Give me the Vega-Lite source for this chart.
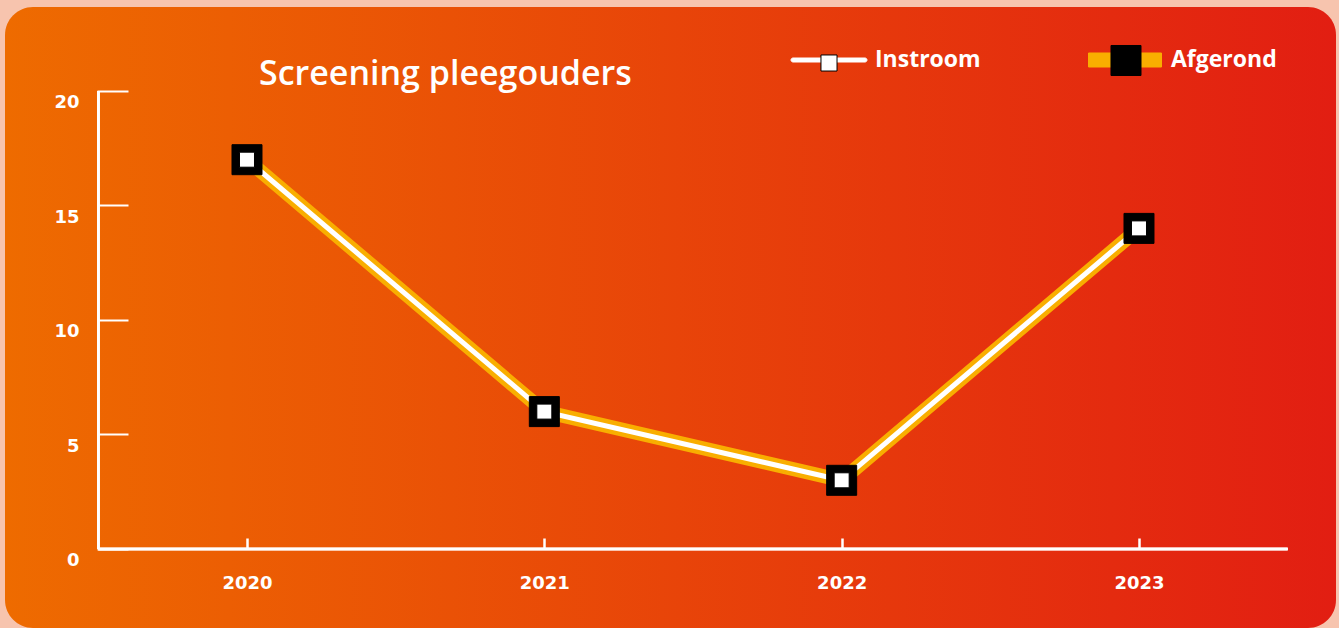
{
  "$schema": "https://vega.github.io/schema/vega-lite/v6.json",
  "width": 1331,
  "height": 621,
  "autosize": {"type": "none"},
  "padding": {"left": 5, "top": 7, "right": 3, "bottom": 0},
  "background": "#f7c4ae",
  "title": {
    "text": "Screening pleegouders",
    "anchor": "start",
    "frame": "group",
    "orient": "top",
    "offset": 0,
    "dx": 254,
    "dy": 112,
    "baseline": "alphabetic",
    "color": "#ffffff",
    "font": "Open Sans",
    "fontSize": 34,
    "fontWeight": 600
  },
  "data": {
    "values": [
      {"year": 2020, "Instroom": 17, "Afgerond": 17},
      {"year": 2021, "Instroom": 6, "Afgerond": 6},
      {"year": 2022, "Instroom": 3, "Afgerond": 3},
      {"year": 2023, "Instroom": 14, "Afgerond": 14}
    ]
  },
  "encoding": {
    "x": {
      "field": "year",
      "type": "quantitative",
      "scale": {"domain": [2019.1861, 2023.6626], "nice": false, "zero": false},
      "axis": {
        "values": [2020, 2021, 2022, 2023],
        "format": "d",
        "title": null,
        "domain": false,
        "grid": false,
        "offset": -79,
        "tickSize": -11,
        "tickWidth": 2.5,
        "tickColor": "#ffffff",
        "labelColor": "#ffffff",
        "labelFont": "DejaVu Sans",
        "labelFontWeight": "bold",
        "labelFontSize": 18,
        "labelPadding": 36,
        "labelFlush": false,
        "labelOverlap": false
      }
    }
  },
  "layer": [
    {
      "mark": {"type": "rule", "color": "#ffffff", "strokeWidth": 2.5},
      "encoding": {
        "x": {"datum": 2019.5, "type": "quantitative"},
        "y": {
          "datum": 0,
          "type": "quantitative",
          "scale": {"domain": [-3.4498, 23.668], "nice": false, "zero": false},
          "axis": {
            "values": [0, 5, 10, 15, 20],
            "title": null,
            "domain": false,
            "grid": false,
            "offset": -92,
            "tickSize": -31,
            "tickWidth": 2,
            "tickColor": "#ffffff",
            "labelColor": "#ffffff",
            "labelFont": "DejaVu Sans",
            "labelFontWeight": "bold",
            "labelFontSize": 18,
            "labelPadding": 49,
            "labelOffset": 12,
            "labelFlush": false,
            "labelOverlap": false
          }
        },
        "y2": {"datum": 20}
      }
    },
    {
      "mark": {"type": "rule", "color": "#ffffff", "strokeWidth": 2.5},
      "encoding": {
        "x": {"datum": 2019.5, "type": "quantitative"},
        "x2": {"datum": 2023.5},
        "y": {"datum": 0, "type": "quantitative"}
      }
    },
    {
      "mark": {"type": "line", "strokeWidth": 14, "strokeJoin": "miter"},
      "encoding": {
        "y": {"field": "Afgerond", "type": "quantitative"},
        "stroke": {
          "datum": "Afgerond",
          "type": "nominal",
          "scale": {"domain": ["Instroom", "Afgerond"], "range": ["#ffffff", "#f9ae00"]},
          "legend": {
            "orient": "none", "legendX": 787, "legendY": 16,
            "direction": "horizontal", "columns": 2, "columnPadding": 105, "padding": 0,
            "title": null,
            "symbolSize": 5329, "symbolStrokeWidth": 1,
            "symbolType": {"expr": "datum.value === 'Afgerond' ? 'M-1,-0.1918H1V0.1918H-1Z' : 'M-0.986,-0.0548H0.986A0.0548,0.0548,0,0,1,0.986,0.0548H-0.986A0.0548,0.0548,0,0,1,-0.986,-0.0548Z'"},
            "symbolFillColor": {"expr": "datum.value === 'Afgerond' ? '#f9ae00' : '#ffffff'"},
            "symbolOpacity": 1,
            "labelFont": "Open Sans", "labelFontWeight": "bold", "labelFontSize": 23,
            "labelColor": "#ffffff", "labelOffset": 9, "labelLimit": 300
          }
        }
      }
    },
    {
      "mark": {"type": "line", "strokeWidth": 5, "strokeJoin": "miter"},
      "encoding": {
        "y": {"field": "Instroom", "type": "quantitative"},
        "stroke": {
          "datum": "Instroom",
          "type": "nominal",
          "scale": {"domain": ["Instroom", "Afgerond"], "range": ["#ffffff", "#f9ae00"]}
        }
      }
    },
    {
      "mark": {"type": "square", "size": 900, "opacity": 1, "stroke": "#000000", "strokeWidth": 1},
      "encoding": {
        "y": {"field": "Afgerond", "type": "quantitative"},
        "fill": {
          "datum": "Afgerond",
          "type": "nominal",
          "scale": {"domain": ["Afgerond", "Instroom"], "range": ["#000000", "#ffffff"]},
          "legend": {
            "orient": "none", "legendX": 787, "legendY": 16,
            "direction": "horizontal", "columns": 2, "columnPadding": 214, "padding": 0,
            "title": null, "values": ["Instroom", "Afgerond"],
            "symbolSize": 5329, "symbolStrokeWidth": 1, "symbolStrokeColor": "#000000",
            "symbolType": {"expr": "datum.value === 'Afgerond' ? 'M-0.411,-0.411H0.411V0.411H-0.411Z' : 'M-0.22,-0.22H0.22V0.22H-0.22Z'"},
            "symbolOpacity": 1,
            "labelExpr": "''",
            "labelFont": "Open Sans", "labelFontWeight": "bold", "labelFontSize": 23,
            "labelColor": "#ffffff", "labelOpacity": 0, "labelOffset": 9, "labelLimit": 300
          }
        }
      }
    },
    {
      "mark": {"type": "square", "size": 225, "opacity": 1, "stroke": "#000000", "strokeWidth": 1},
      "encoding": {
        "y": {"field": "Instroom", "type": "quantitative"},
        "fill": {
          "datum": "Instroom",
          "type": "nominal",
          "scale": {"domain": ["Afgerond", "Instroom"], "range": ["#000000", "#ffffff"]}
        }
      }
    }
  ],
  "config": {
    "view": {
      "fill": {"gradient": "linear", "x1": 0, "y1": 0, "x2": 1, "y2": 0,
        "stops": [{"offset": 0, "color": "#ee6b00"}, {"offset": 1, "color": "#e21e12"}]},
      "cornerRadius": 28,
      "stroke": null
    }
  }
}
